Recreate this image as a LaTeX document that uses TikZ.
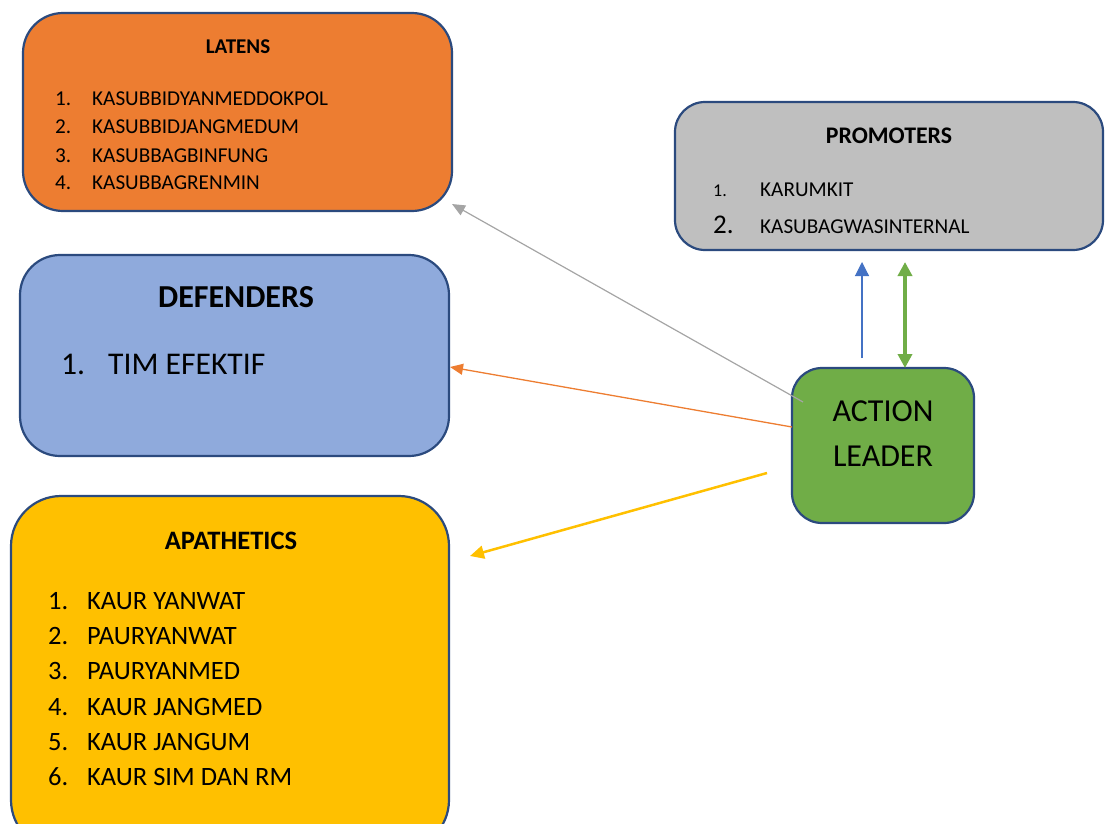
\documentclass[tikz,border=0pt]{standalone}
\usepackage{fontspec}
\setmainfont{Carlito}
\usetikzlibrary{arrows.meta}
\definecolor{edgeblue}{HTML}{2B4A7E}
\definecolor{latorange}{HTML}{ED7D31}
\definecolor{promgray}{HTML}{BFBFBF}
\definecolor{defblue}{HTML}{8FAADC}
\definecolor{apayellow}{HTML}{FFC000}
\definecolor{leadgreen}{HTML}{70AD47}
\definecolor{linegray}{HTML}{A5A5A5}
\definecolor{lineblue}{HTML}{4472C4}

\begin{document}
\begin{tikzpicture}[
    x=1pt, y=-1pt,
    box/.style={draw=edgeblue, line width=2.2pt, inner sep=0pt},
    title/.style={font=\fontsize{21}{25}\selectfont\bfseries},
    item/.style={anchor=base west, inner sep=0pt, font=\fontsize{21.2}{25}\selectfont},
    bigitem/.style={anchor=base west, inner sep=0pt, font=\fontsize{26.5}{31}\selectfont},
    arrow/.style={-{Triangle[length=13pt, width=11pt]}}
]
\useasboundingbox (0,0) rectangle (1108,823);

% Latens (top left)
\node[box, fill=latorange, rounded corners=40pt, minimum width=429pt, minimum height=198pt] (latens) at (237.5,112) {};
\node[title] (latT) at (238,47) {LATENS};
\node[item] (lat1n) at (55,105) {1.};  \node[item] (lat1) at (92,105) {KASUBBIDYANMEDDOKPOL};
\node[item] (lat2n) at (55,133) {2.};  \node[item] (lat2) at (92,133) {KASUBBIDJANGMEDUM};
\node[item] (lat3n) at (55,162) {3.};  \node[item] (lat3) at (92,162) {KASUBBAGBINFUNG};
\node[item] (lat4n) at (55,189) {4.};  \node[item] (lat4) at (92,189) {KASUBBAGRENMIN};

% Promoters (top right)
\node[box, fill=promgray, rounded corners=30pt, minimum width=428pt, minimum height=148pt] (prom) at (889,176) {};
\node[title, font=\fontsize{23.8}{28}\selectfont\bfseries] (promT) at (889,136) {PROMOTERS};
\node[item, font=\fontsize{18}{21}\selectfont] (prom1n) at (713,196) {1.};  \node[item] (prom1) at (760,196) {KARUMKIT};
\node[item, font=\fontsize{27}{31}\selectfont] (prom2n) at (713,233) {2.};  \node[item] (prom2) at (760,233) {KASUBAGWASINTERNAL};

% Defenders (middle left)
\node[box, fill=defblue, rounded corners=40pt, minimum width=429pt, minimum height=201pt] (def) at (234.5,355.5) {};
\node[title, font=\fontsize{32}{38}\selectfont\bfseries] (defT) at (236,297) {DEFENDERS};
\node[bigitem, font=\fontsize{31.6}{37}\selectfont] (def1n) at (61,374) {1.};
\node[bigitem, font=\fontsize{31.6}{37}\selectfont] (def1) at (108,374) {TIM EFEKTIF};

% Apathetics (bottom left, cut by the page)
\node[box, fill=apayellow, rounded corners=50pt, minimum width=438pt, minimum height=354pt] (apa) at (230,673) {};
\node[title, font=\fontsize{26.6}{31}\selectfont\bfseries] (apaT) at (231,541) {APATHETICS};
\foreach \n/\txt [count=\i] in {609/KAUR YANWAT, 644/PAURYANWAT, 679/PAURYANMED, 715/KAUR JANGMED, 750/KAUR JANGUM, 785/KAUR SIM DAN RM} {
  \node[bigitem] (apa\i n) at (48,\n) {\i.};
  \node[bigitem] (apa\i) at (87,\n) {\txt};
}

% Action leader
\node[box, fill=leadgreen, rounded corners=30pt, minimum width=182pt, minimum height=155pt] (lead) at (883,445.5) {};
\node[align=center, font=\fontsize{32}{45}\selectfont] (leadT) at (883,434) {ACTION\\LEADER};

% arrow ends
\coordinate (gA) at (803,402);  \coordinate (gB) at (452,204);
\coordinate (oA) at (792,427);  \coordinate (oB) at (450,367);
\coordinate (yA) at (767,473);  \coordinate (yB) at (470,556);
\coordinate (bA) at (862,358);  \coordinate (bB) at (862,262);
\coordinate (vA) at (905,368);  \coordinate (vB) at (905,262);

\draw[arrow, linegray, line width=1.2pt] (gA) -- (gB);
\draw[arrow, latorange, line width=1.3pt] (oA) -- (oB);
\draw[arrow, apayellow, line width=2.5pt, -{Triangle[length=14pt, width=13pt]}] (yA) -- (yB);
\draw[arrow, lineblue, line width=1.2pt, -{Triangle[length=14pt, width=14pt]}] (bA) -- (bB);
\draw[leadgreen, line width=3.5pt, {Triangle[length=14pt, width=14pt]}-{Triangle[length=14pt, width=14pt]}] (vA) -- (vB);

\end{tikzpicture}
\end{document}
